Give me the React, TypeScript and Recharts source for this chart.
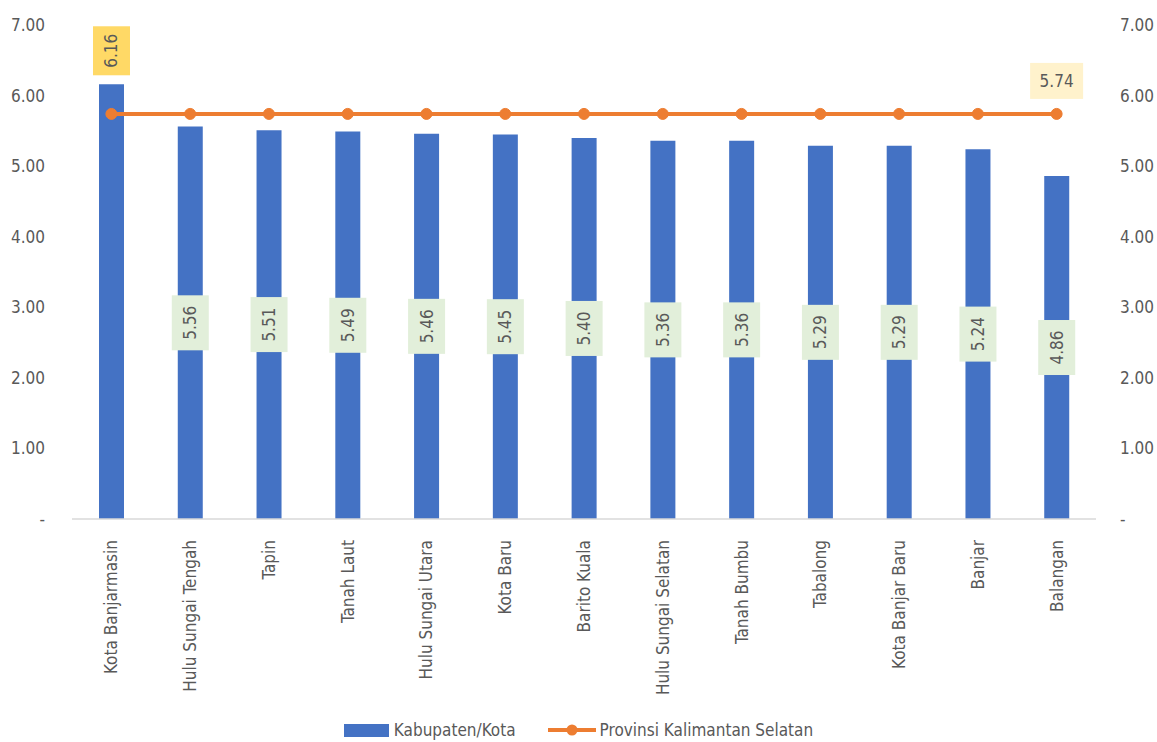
import React from 'react';
import { ComposedChart, Bar, Line, XAxis, YAxis, Legend, LabelList } from 'recharts';

const categories = [
  'Kota Banjarmasin',
  'Hulu Sungai Tengah',
  'Tapin',
  'Tanah Laut',
  'Hulu Sungai Utara',
  'Kota Baru',
  'Barito Kuala',
  'Hulu Sungai Selatan',
  'Tanah Bumbu',
  'Tabalong',
  'Kota Banjar Baru',
  'Banjar',
  'Balangan',
];
const kabKotaValues = [6.16, 5.56, 5.51, 5.49, 5.46, 5.45, 5.4, 5.36, 5.36, 5.29, 5.29, 5.24, 4.86];
const provinsiValues = [5.74, 5.74, 5.74, 5.74, 5.74, 5.74, 5.74, 5.74, 5.74, 5.74, 5.74, 5.74, 5.74];
const yTicks = [0, 1, 2, 3, 4, 5, 6, 7];

const data = categories.map((name, i) => ({
  name,
  kab: kabKotaValues[i],
  prov: provinsiValues[i],
}));

const FONT = '"DejaVu Sans Condensed", "DejaVu Sans", sans-serif';
const FS = 17;
const TEXT = '#595959';
const BLUE = '#4472C4';
const ORANGE = '#ED7D31';

const fmt = (v: number) => (v === 0 ? '-' : v.toFixed(2));

const BarLabel = (props: any) => {
  const x = Number(props.x);
  const y = Number(props.y);
  const width = Number(props.width);
  const height = Number(props.height);
  const cx = x + width / 2;
  const text = Number(props.value).toFixed(2);
  let cy: number, w: number, h: number, fill: string;
  if (props.index === 0) {
    w = 37; h = 49; fill = '#FFD966';
    cy = y - 9 - h / 2;
  } else {
    w = 37; h = 55; fill = '#E2EFDA';
    cy = y + height / 2;
  }
  return (
    <g>
      <rect x={cx - w / 2} y={cy - h / 2} width={w} height={h} fill={fill} />
      <text
        x={cx}
        y={cy}
        transform={`rotate(-90 ${cx} ${cy})`}
        textAnchor="middle"
        dominantBaseline="central"
        fill={TEXT}
        fontSize={FS}
      >
        {text}
      </text>
    </g>
  );
};

const LineLabel = (props: any) => {
  if (props.index !== categories.length - 1) return null;
  const cx = Number(props.x);
  const cy = Number(props.y) - 33;
  const w = 53, h = 36;
  return (
    <g>
      <rect x={cx - w / 2} y={cy - h / 2} width={w} height={h} fill="#FFF2CC" />
      <text x={cx} y={cy} textAnchor="middle" dominantBaseline="central" fill={TEXT} fontSize={FS}>
        {Number(props.value).toFixed(2)}
      </text>
    </g>
  );
};

const CategoryTick = (props: any) => {
  const { x, y, payload } = props;
  const ty = Number(y) + 19;
  return (
    <text
      x={x}
      y={ty}
      transform={`rotate(-90 ${x} ${ty})`}
      textAnchor="end"
      dominantBaseline="central"
      fill={TEXT}
      fontSize={FS}
    >
      {payload.value}
    </text>
  );
};

const ChartLegend = () => (
  <div
    style={{
      display: 'flex',
      justifyContent: 'center',
      alignItems: 'center',
      height: 24,
      fontSize: FS,
      color: TEXT,
      fontFamily: FONT,
      fontStretch: 'condensed',
    }}
  >
    <span style={{ display: 'inline-block', width: 45, height: 13, background: BLUE, marginRight: 5 }} />
    <span>Kabupaten/Kota</span>
    <svg width={48} height={14} style={{ marginLeft: 32, marginRight: 4 }}>
      <line x1={0} y1={7} x2={48} y2={7} stroke={ORANGE} strokeWidth={4} strokeLinecap="round" />
      <circle cx={24} cy={7} r={5.5} fill={ORANGE} />
    </svg>
    <span>Provinsi Kalimantan Selatan</span>
  </div>
);

export default function App() {
  return (
    <div style={{ position: 'absolute', left: 0, top: 0, fontFamily: FONT, fontStretch: 'condensed' }}>
      <ComposedChart
        width={1157}
        height={742}
        data={data}
        margin={{ top: 25, right: 0, left: 0, bottom: 0 }}
        barCategoryGap={0}
      >
        <XAxis
          dataKey="name"
          interval={0}
          height={199}
          tickLine={false}
          tickSize={0}
          axisLine={{ stroke: '#D9D9D9', strokeWidth: 1.5 }}
          tick={<CategoryTick />}
        />
        <YAxis
          yAxisId="left"
          width={72}
          domain={[0, 7]}
          ticks={yTicks}
          axisLine={false}
          tickLine={false}
          tickSize={0}
          tickMargin={27}
          tickFormatter={fmt}
          tick={{ fill: TEXT, fontSize: FS }}
        />
        <YAxis
          yAxisId="right"
          orientation="right"
          width={61}
          domain={[0, 7]}
          ticks={yTicks}
          axisLine={false}
          tickLine={false}
          tickSize={0}
          tickMargin={24}
          tickFormatter={fmt}
          tick={{ fill: TEXT, fontSize: FS, textAnchor: 'start' }}
        />
        <Legend verticalAlign="bottom" content={<ChartLegend />} />
        <Bar yAxisId="left" dataKey="kab" name="Kabupaten/Kota" fill={BLUE} barSize={25} isAnimationActive={false}>
          <LabelList dataKey="kab" content={<BarLabel />} />
        </Bar>
        <Line
          yAxisId="right"
          dataKey="prov"
          name="Provinsi Kalimantan Selatan"
          stroke={ORANGE}
          strokeWidth={4}
          dot={{ r: 5.5, fill: ORANGE, stroke: ORANGE, strokeWidth: 1 }}
          activeDot={false}
          isAnimationActive={false}
        >
          <LabelList dataKey="prov" content={<LineLabel />} />
        </Line>
      </ComposedChart>
    </div>
  );
}
